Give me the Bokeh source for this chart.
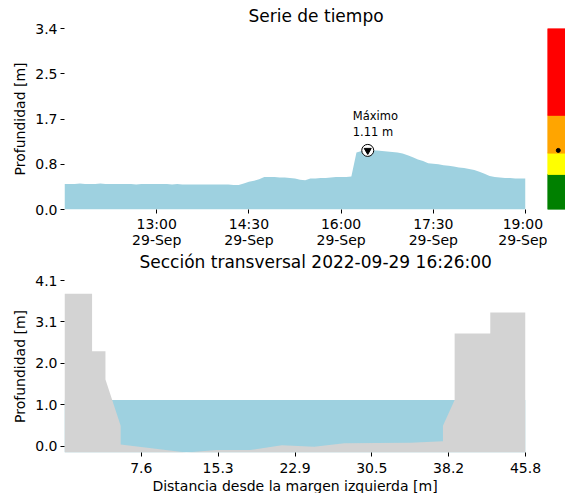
import pandas as pd
from bokeh.plotting import figure
from bokeh.layouts import column, row
from bokeh.models import FixedTicker, Range1d
from bokeh.core.properties import value
from bokeh.embed import file_html
from bokeh.resources import INLINE

FONT = "DejaVu Sans"
WATER = "#9ed1e0"
GROUND = "#d3d3d3"

# ---------------- time series data ----------------
ts_start = "2022-09-29 11:30"
ts_step = "5min"
depth = [
    0.48, 0.48, 0.48, 0.49, 0.48, 0.48, 0.48, 0.49, 0.48, 0.48,   # 11:30-12:15
    0.48, 0.48, 0.48, 0.48, 0.47, 0.48, 0.48, 0.48, 0.48, 0.48,   # 12:20-13:05
    0.48, 0.47, 0.48, 0.47, 0.47, 0.47, 0.47, 0.47, 0.47, 0.47,   # 13:10-13:55
    0.47, 0.47, 0.47, 0.46, 0.46, 0.49, 0.52, 0.54, 0.57, 0.61,   # 14:00-14:45
    0.61, 0.61, 0.60, 0.60, 0.59, 0.58, 0.56, 0.55, 0.58, 0.58,   # 14:50-15:35
    0.59, 0.59, 0.60, 0.61, 0.61, 0.61, 0.62, 1.07, 1.10, 1.11,   # 15:40-16:25
    1.11, 1.11, 1.10, 1.09, 1.08, 1.07, 1.05, 1.02, 0.98, 0.94,   # 16:30-17:15
    0.91, 0.87, 0.86, 0.85, 0.83, 0.82, 0.81, 0.79, 0.78, 0.76,   # 17:20-18:05
    0.74, 0.71, 0.67, 0.63, 0.61, 0.60, 0.59, 0.59, 0.58, 0.58,   # 18:10-18:55
    0.58,                                                         # 19:00
]
max_time = "2022-09-29 16:26:00"
max_depth = 1.11

ts_ticks = ["2022-09-29 13:00", "2022-09-29 14:30", "2022-09-29 16:00",
            "2022-09-29 17:30", "2022-09-29 19:00"]
ts_tick_labels = ["13:00\n29-Sep", "14:30\n29-Sep", "16:00\n29-Sep",
                  "17:30\n29-Sep", "19:00\n29-Sep"]
ts_yticks = [0.0, 0.85, 1.7, 2.55, 3.4]
ts_ytick_labels = ["0.0", "0.8", "1.7", "2.5", "3.4"]

alert_levels = [0.0, 0.66, 1.06, 1.77, 3.4]
alert_colors = ["green", "yellow", "orange", "red"]

# ---------------- cross section data ----------------
cs_dist = [0.0, 2.74, 2.74, 4.07, 4.07, 5.58, 5.58, 12.1, 15.1, 18.45, 21.6,
           24.8, 27.8, 34.4, 37.6, 37.6, 38.76, 38.76, 42.3, 42.3, 45.8]
cs_elev = [3.77, 3.77, 2.35, 2.35, 1.65, 0.50, 0.04, -0.16, -0.10, -0.10, 0.02,
           -0.02, 0.07, 0.08, 0.12, 0.50, 1.14, 2.79, 2.79, 3.31, 3.31]
water_level = 1.14

cs_xticks = [7.63, 15.27, 22.9, 30.53, 38.17, 45.8]
cs_xtick_labels = ["7.6", "15.3", "22.9", "30.5", "38.2", "45.8"]
cs_yticks = [0.0, 1.025, 2.05, 3.075, 4.1]
cs_ytick_labels = ["0.0", "1.0", "2.0", "3.1", "4.1"]


def ms(t):
    return float(pd.Timestamp(t).value // 10**6)


def style_axes(p):
    p.xgrid.visible = False
    p.ygrid.visible = False
    p.outline_line_color = None
    for ax in p.axis:
        ax.axis_line_color = None
        ax.major_tick_line_color = "black"
        ax.major_tick_out = 4
        ax.major_tick_in = 0
        ax.minor_tick_line_color = None
        ax.major_label_text_font = FONT
        ax.major_label_text_font_size = "14px"
        ax.major_label_text_color = "black"
        ax.axis_label_text_font = FONT
        ax.axis_label_text_font_size = "14px"
        ax.axis_label_text_font_style = "normal"
        ax.axis_label_text_color = "black"
    p.title.text_font = FONT
    p.title.text_font_size = "17px"
    p.title.text_font_style = "normal"
    p.title.text_color = "black"
    p.title.align = "left"


# ---------------- top: time series ----------------
times = pd.date_range(ts_start, periods=len(depth), freq=ts_step)

p1 = figure(frame_width=461, frame_height=181, x_axis_type="datetime",
            x_range=Range1d(times[0], times[-1]), y_range=Range1d(0, 3.4),
            min_border_left=64, min_border_right=22, min_border_top=22,
            min_border_bottom=40, title="Serie de tiempo",
            output_backend="svg", toolbar_location=None)
p1.varea(x=times, y1=0, y2=depth, color=WATER)
mt = pd.Timestamp(max_time)
p1.scatter([mt], [max_depth], size=12, marker="circle", fill_color="white",
           line_color="black", line_width=1)
p1.scatter([mt], [max_depth], size=7, marker="inverted_triangle",
           fill_color="black", line_color="black")
p1.text(x=[mt], y=[max_depth], text=[f"Máximo\n{max_depth:.2f} m"],
        text_font=value(FONT), text_font_size="11.5px", text_color="black",
        x_offset=-15, y_offset=-11, text_baseline="bottom", text_align="left",
        text_line_height=1.15)
style_axes(p1)
p1.title.standoff = 5
p1.title.offset = 184
tick_ms = [ms(t) for t in ts_ticks]
p1.xaxis.ticker = FixedTicker(ticks=tick_ms)
p1.xaxis.major_label_overrides = dict(zip(tick_ms, ts_tick_labels))
p1.xaxis.major_label_standoff = 2
p1.xaxis.major_label_text_line_height = 1.0
p1.yaxis.ticker = FixedTicker(ticks=ts_yticks)
p1.yaxis.major_label_overrides = dict(zip(ts_yticks, ts_ytick_labels))
p1.yaxis.axis_label = "Profundidad [m]"
p1.yaxis.major_label_standoff = 3
p1.yaxis.axis_label_standoff = 4

# alert colour bar
pcb = figure(frame_width=18, frame_height=181, x_range=Range1d(0, 1),
             y_range=Range1d(0, 3.4),
             min_border_left=0, min_border_right=0, min_border_top=28,
             min_border_bottom=40, x_axis_location=None, y_axis_location=None,
             output_backend="svg", toolbar_location=None)
pcb.outline_line_color = None
pcb.xgrid.visible = False
pcb.ygrid.visible = False
pcb.quad(left=0, right=1, bottom=alert_levels[:-1], top=alert_levels[1:],
         color=alert_colors)
pcb.scatter([0.6], [max_depth], size=4, color="black")

# ---------------- bottom: cross section ----------------
ymin = min(cs_elev)
p2 = figure(frame_width=461, frame_height=172,
            x_range=Range1d(cs_dist[0], cs_dist[-1]),
            y_range=Range1d(ymin, 4.1),
            min_border_left=64, min_border_right=22, min_border_top=30,
            min_border_bottom=36,
            title=f"Sección transversal {max_time}",
            output_backend="svg", toolbar_location=None)
p2.margin = (-9, 0, 0, 0)
p2.border_fill_alpha = 0
p2.varea(x=[cs_dist[0], cs_dist[-1]], y1=ymin, y2=[water_level, water_level],
         color=WATER)
p2.varea(x=cs_dist, y1=ymin, y2=cs_elev, color=GROUND)
style_axes(p2)
p2.title.standoff = 18
p2.title.offset = 75
p2.xaxis.ticker = FixedTicker(ticks=cs_xticks)
p2.xaxis.major_label_overrides = dict(zip(cs_xticks, cs_xtick_labels))
p2.xaxis.axis_label = "Distancia desde la margen izquierda [m]"
p2.xaxis.major_label_standoff = 6
p2.xaxis.axis_label_standoff = 2
p2.yaxis.ticker = FixedTicker(ticks=cs_yticks)
p2.yaxis.major_label_overrides = dict(zip(cs_yticks, cs_ytick_labels))
p2.yaxis.axis_label = "Profundidad [m]"
p2.yaxis.major_label_standoff = 3
p2.yaxis.axis_label_standoff = 4

layout = column(row(p1, pcb), p2)
open("out.html", "w").write(file_html(layout, INLINE))
